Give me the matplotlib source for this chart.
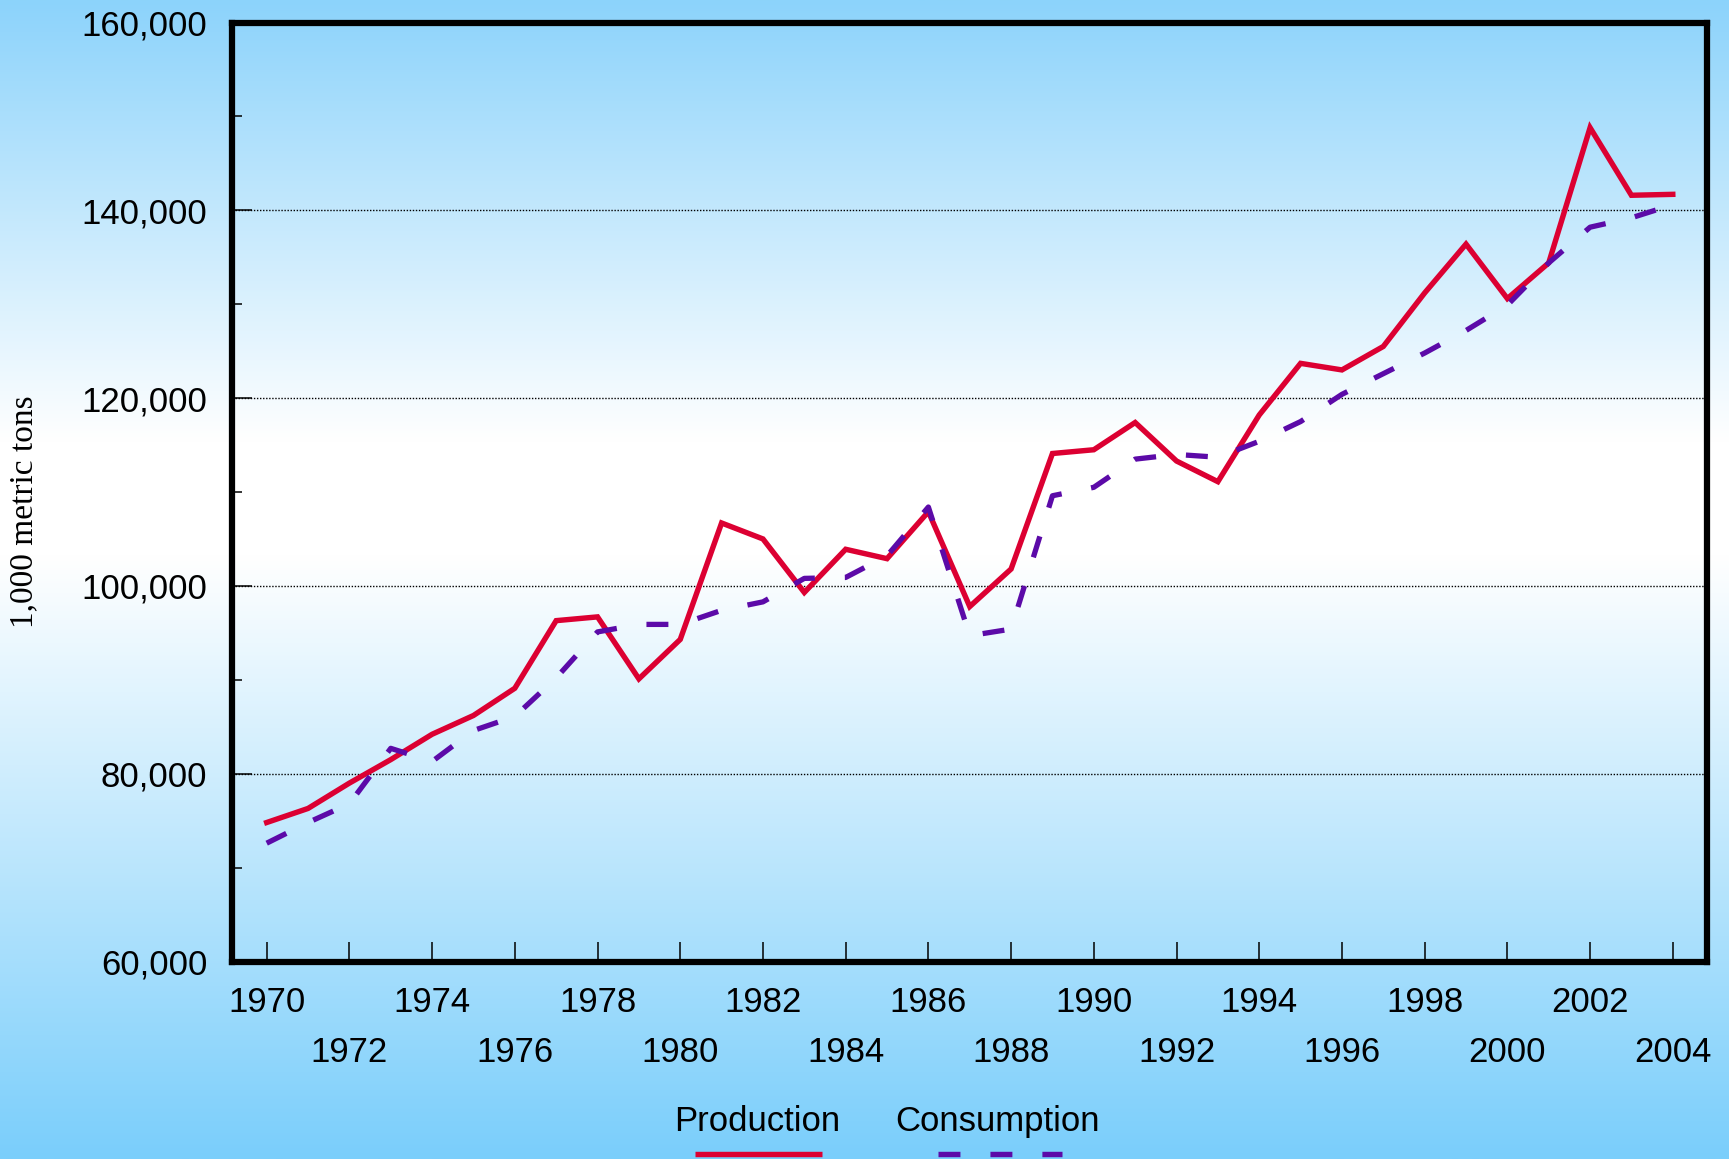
import numpy as np
import matplotlib
matplotlib.use("Agg")
import matplotlib.pyplot as plt
from matplotlib.ticker import FuncFormatter, MultipleLocator
from matplotlib.lines import Line2D

# production / consumption, 1,000 metric tons
years = list(range(1970, 2005))
production = [74800, 76300, 79000, 81500, 84200, 86200, 89100, 96300, 96700, 90100,
              94300, 106700, 105000, 99300, 103900, 102900, 107900, 97800, 101800, 114100,
              114500, 117400, 113300, 111100, 118200, 123700, 123000, 125500, 131200, 136400,
              130600, 134400, 148800, 141600, 141700]
consumption = [72600, 74800, 76800, 82700, 81300, 84600, 86100, 90200, 95100, 95900,
               95900, 97400, 98300, 100800, 100900, 103200, 108400, 94700, 95400, 109600,
               110500, 113500, 114000, 113700, 115400, 117500, 120400, 122600, 124800, 127200,
               129900, 134400, 138200, 139200, 140600]
row1_years = list(range(1970, 2004, 4))
row2_years = list(range(1972, 2005, 4))
series_names = ["Production", "Consumption"]

RED = "#dc0032"
PURPLE = "#5c0aa8"
SANS = "Liberation Sans"
SERIF = "Liberation Serif"

plt.rcParams["lines.scale_dashes"] = False

W, H = 1729, 1159
fig = plt.figure(figsize=(W / 100, H / 100), dpi=100)

# background: blue at top, white band, blue at bottom
bg = fig.add_axes([0, 0, 1, 1], zorder=0)
stops = [0.0, 0.38, 0.48, 1.0]
cols = np.array([[140, 211, 251], [255, 255, 255], [255, 255, 255], [122, 206, 251]]) / 255
t = np.linspace(0, 1, 400)
grad = np.stack([np.interp(t, stops, cols[:, k]) for k in range(3)], axis=-1)
bg.imshow(grad[:, None, :], aspect="auto", extent=[0, 1, 0, 1])
bg.axis("off")

l, r, top, bot = 231.7, 1706.7, 22.5, 961.5
ax = fig.add_axes([l / W, 1 - bot / H, (r - l) / W, (bot - top) / H], zorder=1)
ax.set_facecolor("none")

ax.plot(years, production, color=RED, lw=3.9, solid_joinstyle="miter", zorder=3)
ax.plot(years, consumption, color=PURPLE, lw=3.8, dashes=(15.8, 21.6),
        dash_capstyle="butt", zorder=4)

ax.set_xlim(1969.154, 2004.82)
ax.set_ylim(60000, 160000)

ax.set_xticks(row1_years, [str(y) for y in row1_years])
ax.set_xticks(row2_years, [str(y) for y in row2_years], minor=True)
ax.tick_params(axis="x", which="both", direction="in", length=14.4, width=1.1,
               labelsize=25, pad=18)
ax.tick_params(axis="x", which="minor", pad=18 + 35.5)

ax.yaxis.set_major_locator(MultipleLocator(20000))
ax.yaxis.set_minor_locator(MultipleLocator(10000))
ax.yaxis.set_major_formatter(FuncFormatter(lambda v, p: f"{v:,.0f}"))
ax.tick_params(axis="y", which="major", direction="in", length=14.4, width=1.1,
               labelsize=25, pad=17.5)
ax.tick_params(axis="y", which="minor", direction="in", length=7.2, width=1.1)
for lab in ax.get_xticklabels(which="both") + ax.get_yticklabels():
    lab.set_fontfamily(SANS)

ax.grid(axis="y", which="major", color="black", lw=1.0, linestyle=(0, (1, 1.2)))
for s in ax.spines.values():
    s.set_linewidth(4.5)
    s.set_zorder(5)

fig.text(24 / W, 1 - 512 / H, "1,000 metric tons", rotation=90, ha="center", va="center",
         fontsize=24, family=SERIF)

# legend: label above its line sample
fig.text(757.5 / W, 1 - 1121.5 / H, series_names[0], ha="center", va="center",
         fontsize=25, family=SANS)
fig.text(997 / W, 1 - 1121.5 / H, series_names[1], ha="center", va="center",
         fontsize=25, family=SANS)
fig.add_artist(Line2D([695 / W, 821.7 / W], [1 - 1153.7 / H] * 2, color=RED, lw=3.9,
                      solid_capstyle="butt", transform=fig.transFigure))
fig.add_artist(Line2D([938 / W, 1061.7 / W], [1 - 1153.7 / H] * 2, color=PURPLE, lw=3.9,
                      dashes=(15.8, 21.6), dash_capstyle="butt", transform=fig.transFigure))

fig.savefig("out.png", dpi=100)
